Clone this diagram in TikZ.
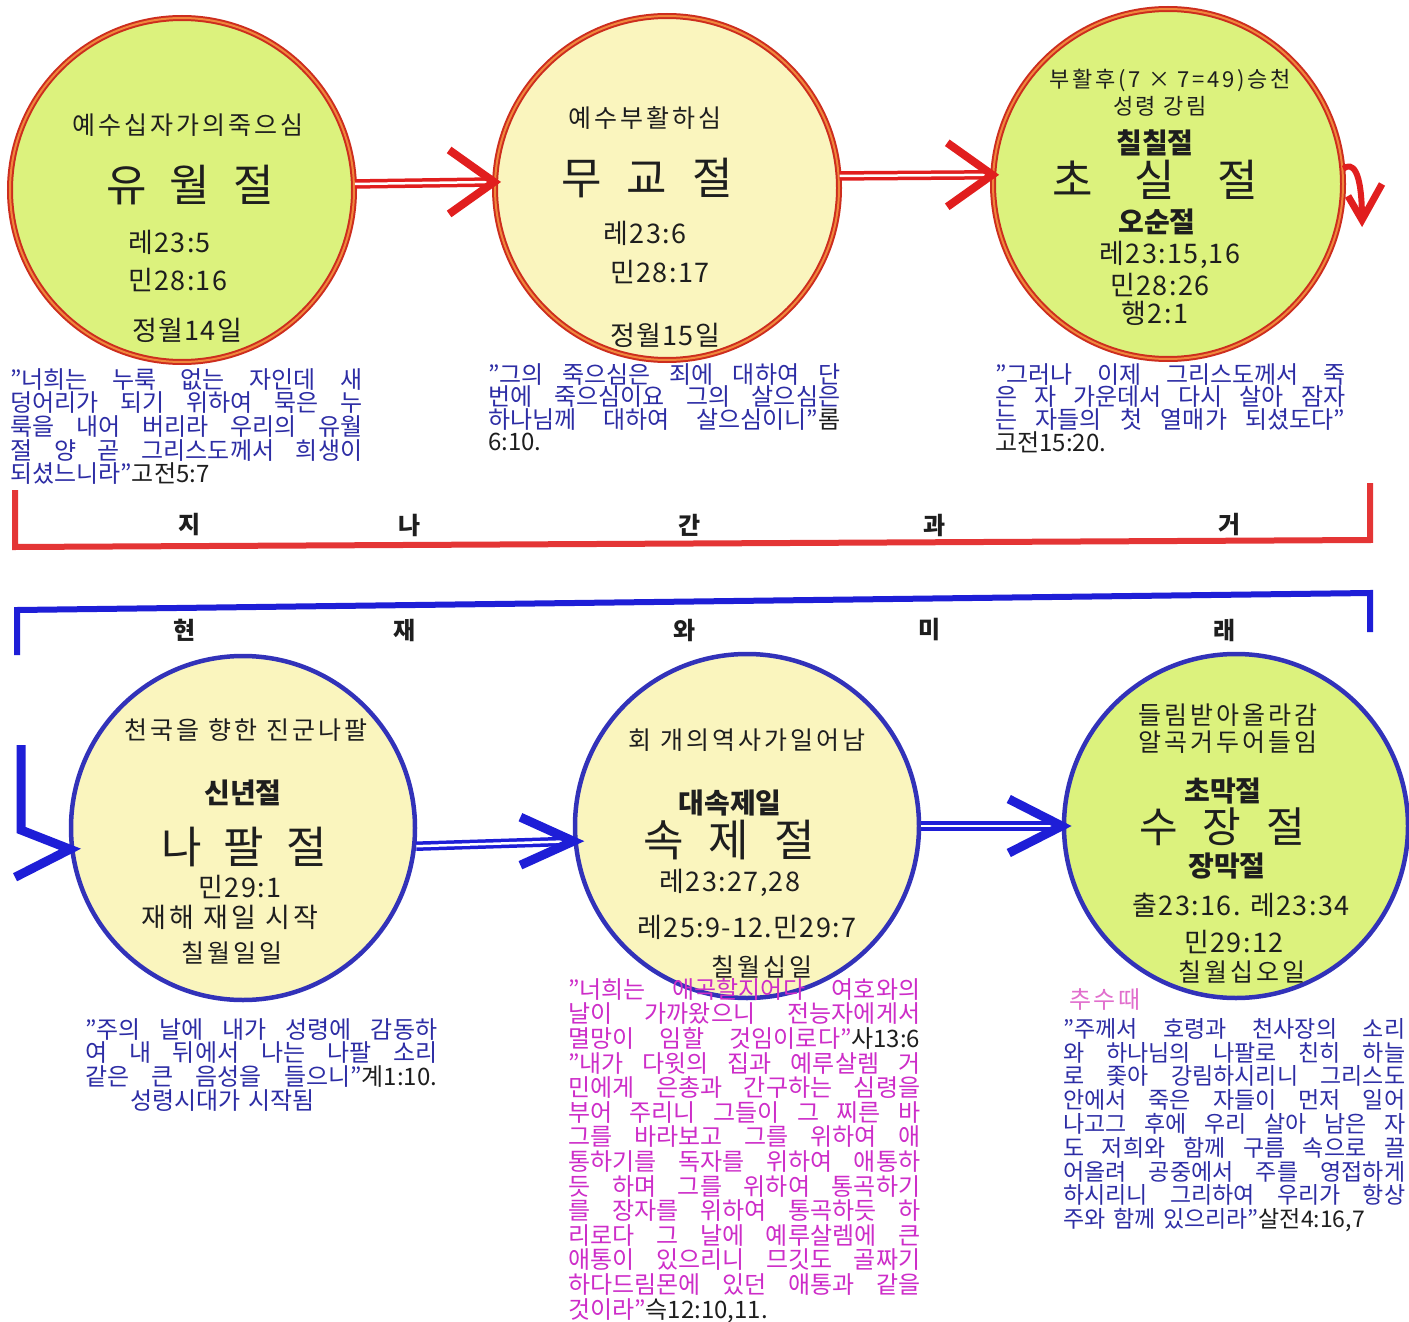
\documentclass[tikz,border=0pt]{standalone}
\usepackage{fontspec}
\setmainfont{Noto Sans CJK KR}
\newfontfamily\notefont[LetterSpace=12]{Noto Sans CJK KR}
\newfontfamily\versefont[LetterSpace=5]{Noto Sans CJK KR}
\usetikzlibrary{arrows.meta}

\definecolor{limefill}{RGB}{220,242,125}
\definecolor{creamfill}{RGB}{250,245,190}
\definecolor{ringred}{RGB}{205,45,30}
\definecolor{ringorange}{RGB}{240,135,60}
\definecolor{ringblue}{RGB}{50,50,185}
\definecolor{arrred}{RGB}{225,30,30}
\definecolor{arrblue}{RGB}{30,30,215}
\definecolor{qblue}{RGB}{45,45,165}
\definecolor{qmagenta}{RGB}{205,45,200}
\definecolor{qpink}{RGB}{225,110,205}
\definecolor{ink}{RGB}{30,30,30}

\newcommand{\fs}[1]{\fontsize{#1}{#1}\selectfont}
\newcommand{\qfont}{\fontsize{24}{23.7}\selectfont}
\newcommand{\jl}[1]{\makebox[\hsize][s]{\spaceskip=.3em plus 1fil\relax#1}}
\newcommand{\srcref}[1]{{\color{ink}#1}}

\tikzset{
  past/.style={circle, draw=ringred, double=ringorange, double distance=2pt,
    line width=2pt, minimum size=344pt, inner sep=0pt},
  future/.style={circle, draw=ringblue, line width=4.5pt, minimum size=344pt, inner sep=0pt},
  note/.style={text=ink, inner sep=0pt, font=\notefont\fs{25}},
  feast/.style={text=ink, inner sep=0pt, font=\fs{44}},
  alias/.style={text=ink, inner sep=0pt, font=\fs{28}\bfseries},
  verse/.style={text=ink, inner sep=0pt, font=\versefont\fs{27}},
  era/.style={text=ink, inner sep=0pt, font=\fs{24}\bfseries},
  scripture/.style={text=qblue, inner sep=0pt, font=\qfont, text width=352pt,
    align=left, anchor=north west},
  redshaft/.style={draw=arrred, line width=3.5pt, double=white, double distance=2.5pt,
    shorten >=6pt},
  redhead/.style={draw=arrred, line width=8pt, line join=miter},
  blueshaft/.style={draw=arrblue, line width=3.5pt, double=white, double distance=2.5pt,
    shorten >=6pt},
  bluehead/.style={draw=arrblue, line width=9pt, line join=miter},
  pastbar/.style={draw=arrred!90!white, line width=6pt},
  nowbar/.style={draw=arrblue, line width=6pt}
}

\begin{document}
\begin{tikzpicture}[x=1pt,y=-1pt]
\clip (0,0) rectangle (1409,1322);
\fill[white] (0,0) rectangle (1409,1322);

% past feasts
\node[past, fill=limefill] (c1) at (182,190) {};
\node[past, fill=creamfill] (c2) at (667,188) {};
\node[past, fill=limefill, minimum size=350pt] (c3) at (1168,184) {};

\node[note] (c1a) at (188,125) {예수십자가의죽으심};
\node[feast] (c1b) at (190,185) {유\hspace{23pt}월\hspace{23pt}절};
\node[verse, anchor=west] (c1c) at (128,242) {레23:5};
\node[verse, anchor=west] (c1d) at (128,280) {민28:16};
\node[verse] (c1e) at (187,330) {정월14일};

\node[note] (c2a) at (645,118) {예수부활하심};
\node[feast] (c2b) at (647,178) {무\hspace{25pt}교\hspace{25pt}절};
\node[verse] (c2c) at (645,233) {레23:6};
\node[verse] (c2d) at (660,272) {민28:17};
\node[verse] (c2e) at (665,335) {정월15일};

\node[note, font=\notefont\fs{22}] (c3a) at (1170,80) {부활후(7 × 7=49)승천};
\node[note, font=\notefont\fs{22}] (c3b) at (1160,106) {성령 강림};
\node[alias] (c3c) at (1155,143) {칠칠절};
\node[feast] (c3d) at (1155,180) {초\hspace{42pt}실\hspace{42pt}절};
\node[alias] (c3e) at (1157,222) {오순절};
\node[verse] (c3f) at (1170,255) {레23:15,16};
\node[verse] (c3g) at (1160,285) {민28:26};
\node[verse] (c3h) at (1155,313) {행2:1};

\draw[redshaft] (c1.2) -- (c2.178);
\draw[redhead] ([shift={(-45,-32)}]c2.178) -- (c2.178) -- ([shift={(-45,32)}]c2.178);
\draw[redshaft] (c2.4) -- (c3.177);
\draw[redhead] ([shift={(-45,-32)}]c3.177) -- (c3.177) -- ([shift={(-45,32)}]c3.177);

\coordinate (curl) at (1362,220);
\draw[draw=arrred, line width=6pt] (c3.5) .. controls (1352,162) and (1362,168) .. (curl);
\draw[redhead, line width=7pt] ([shift={(-14,-24)}]curl) -- (curl) -- ([shift={(20,-36)}]curl);

\node[scripture] (q1) at (10,368) {\jl{"너희는 누룩 없는 자인데 새}\\
  \jl{덩어리가 되기 위하여 묵은 누}\\ \jl{룩을 내어 버리라 우리의 유월}\\
  \jl{절 양 곧 그리스도께서 희생이}\\ 되셨느니라"\srcref{고전5:7}};
\node[scripture, font=\fontsize{24}{22.6}\selectfont] (q2) at (488,363)
  {\jl{"그의 죽으심은 죄에 대하여 단}\\
  \jl{번에 죽으심이요 그의 살으심은}\\ \jl{하나님께 대하여 살으심이니"\srcref{롬}}\\
  \srcref{6:10.}};
\node[scripture, text width=350pt, font=\fontsize{24}{22.8}\selectfont] (q3) at (995,363)
  {\jl{"그러나 이제 그리스도께서 죽}\\
  \jl{은 자 가운데서 다시 살아 잠자}\\ \jl{는 자들의 첫 열매가 되셨도다"}\\
  \srcref{고전15:20.}};

% past / present brackets
\draw[pastbar] (15,490) -- (15,547) -- (1370,540) -- (1370,483);
\node[era] (p1) at (190,525) {지};
\node[era] (p2) at (410,525) {나};
\node[era] (p3) at (690,525) {간};
\node[era] (p4) at (935,525) {과};
\node[era] (p5) at (1230,525) {거};

\draw[nowbar] (17,655) -- (17,610) -- (1370,593) -- (1370,632);
\node[era] (f1) at (185,630) {현};
\node[era] (f2) at (405,630) {재};
\node[era] (f3) at (685,630) {와};
\node[era] (f4) at (930,630) {미};
\node[era] (f5) at (1225,630) {래};

% future feasts
\node[future, fill=creamfill] (c4) at (243,828) {};
\node[future, fill=creamfill] (c5) at (747,826) {};
\node[future, fill=limefill] (c6) at (1236,826) {};

\node[note] (c4a) at (246,730) {천국을 향한 진군나팔};
\node[alias] (c4b) at (243,793) {신년절};
\node[feast] (c4c) at (244,847) {나\hspace{22pt}팔\hspace{22pt}절};
\node[verse] (c4d) at (240,887) {민29:1};
\node[note, font=\notefont\fs{27}] (c4e) at (230,917) {재해 재일 시작};
\node[note] (c4f) at (232,953) {칠월일일};

\node[note] (c5a) at (747,740) {회 개의역사가일어남};
\node[alias] (c5b) at (730,803) {대속제일};
\node[feast] (c5c) at (729,840) {속\hspace{25pt}제\hspace{25pt}절};
\node[verse] (c5d) at (730,883) {레23:27,28};
\node[verse] (c5e) at (747,927) {레25:9-12.민29:7};
\node[note] (c5f) at (762,967) {칠월십일};

\node[note] (c6a) at (1228,715) {들림받아올라감};
\node[note] (c6b) at (1228,742) {알곡거두어들임};
\node[alias] (c6c) at (1223,791) {초막절};
\node[feast, font=\fs{42}] (c6d) at (1222,827) {수\hspace{25pt}장\hspace{25pt}절};
\node[alias] (c6e) at (1227,866) {장막절};
\node[verse] (c6f) at (1241,905) {출23:16. 레23:34};
\node[verse] (c6g) at (1234,942) {민29:12};
\node[note] (c6h) at (1242,972) {칠월십오일};

\coordinate (s4) at (21,745);
\draw[bluehead] (s4) -- (21,830) -- (c4.187) -- ([shift={(-55,28)}]c4.187);
\draw[blueshaft] (c4.-6) -- (c5.185);
\draw[bluehead] ([shift={(-53,-24)}]c5.185) -- (c5.185) -- ([shift={(-53,24)}]c5.185);
\draw[blueshaft] (c5.east) -- (c6.west);
\draw[bluehead] ([shift={(-53,-27)}]c6.west) -- (c6.west) -- ([shift={(-53,27)}]c6.west);

\node[scripture] (q4) at (85,1018) {\jl{"주의 날에 내가 성령에 감동하}\\
  \jl{여 내 뒤에서 나는 나팔 소리}\\ \jl{같은 큰 음성을 들으니"\srcref{계1:10.}}\\
  \hspace*{45pt}성령시대가 시작됨};
\node[scripture, text=qmagenta, font=\fontsize{24}{24.6}\selectfont] (q5) at (568,978)
  {\jl{"너희는 애곡할지어다 여호와의}\\ \jl{날이 가까왔으니 전능자에게서}\\
  \jl{멸망이 임할 것임이로다"\srcref{사13:6}}\\ \jl{"내가 다윗의 집과 예루살렘 거}\\
  \jl{민에게 은총과 간구하는 심령을}\\ \jl{부어 주리니 그들이 그 찌른 바}\\
  \jl{그를 바라보고 그를 위하여 애}\\ \jl{통하기를 독자를 위하여 애통하}\\
  \jl{듯 하며 그를 위하여 통곡하기}\\ \jl{를 장자를 위하여 통곡하듯 하}\\
  \jl{리로다 그 날에 예루살렘에 큰}\\ \jl{애통이 있으리니 므깃도 골짜기}\\
  \jl{하다드림몬에 있던 애통과 같을}\\ 것이라"\srcref{슥12:10,11.}};
\node[text=qpink, inner sep=0pt, font=\notefont\fs{24}] (q6a) at (1105,1000) {추수때};
\node[scripture, text width=342pt, font=\fontsize{23}{23.8}\selectfont] (q6) at (1063,1018)
  {\jl{"주께서 호령과 천사장의 소리}\\ \jl{와 하나님의 나팔로 친히 하늘}\\
  \jl{로 좇아 강림하시리니 그리스도}\\ \jl{안에서 죽은 자들이 먼저 일어}\\
  \jl{나고그 후에 우리 살아 남은 자}\\ \jl{도 저희와 함께 구름 속으로 끌}\\
  \jl{어올려 공중에서 주를 영접하게}\\ \jl{하시리니 그리하여 우리가 항상}\\
  주와 함께 있으리라"\srcref{살전4:16,7}};
\end{tikzpicture}
\end{document}
